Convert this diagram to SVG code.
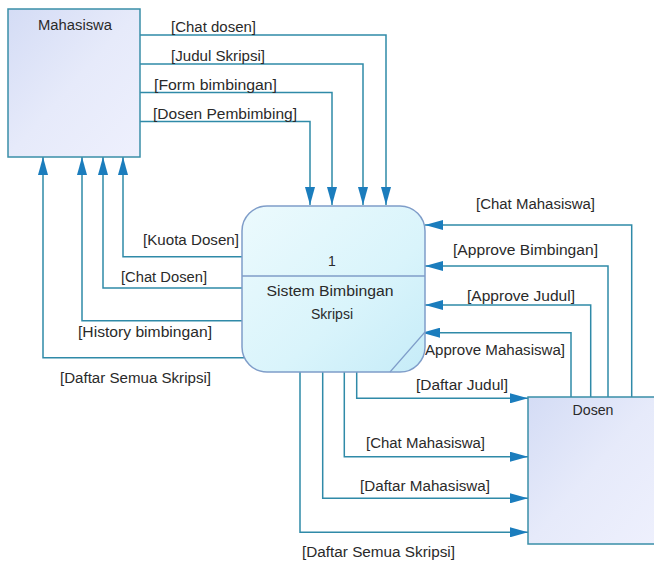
<svg xmlns="http://www.w3.org/2000/svg" width="654" height="565" viewBox="0 0 654 565">
<defs>
<linearGradient id="gEnt" x1="0" y1="0" x2="1" y2="1">
<stop offset="0" stop-color="#d4dcf5"/>
<stop offset="0.5" stop-color="#e6eafa"/>
<stop offset="1" stop-color="#eef0fd"/>
</linearGradient>
<linearGradient id="gProc" x1="0" y1="0" x2="1" y2="1">
<stop offset="0" stop-color="#ecfafd"/>
<stop offset="0.6" stop-color="#d9f4fb"/>
<stop offset="1" stop-color="#c6ecf8"/>
</linearGradient>
<marker id="arr" markerUnits="userSpaceOnUse" markerWidth="18" markerHeight="10" refX="18" refY="5" orient="auto">
<path d="M0,0 L18,5 L0,10 Z" fill="#1b7dbd"/>
</marker>
<style>
.ent{fill:url(#gEnt);stroke:#3a8fa8;stroke-width:1.5}
.proc{fill:url(#gProc);stroke:#7f9dc9;stroke-width:1.5}
.flow{fill:none;stroke:#2f8aa8;stroke-width:1.5;marker-end:url(#arr)}
text{font-family:"Liberation Sans",Arial,sans-serif;font-size:14px;fill:#2a2a2a}
.c{text-anchor:middle}
</style>
</defs>
<rect width="654" height="565" fill="#ffffff"/>

<g id="connectors">
<path class="flow" d="M140,35 H386 V205"/>
<path class="flow" d="M140,64 H363 V205"/>
<path class="flow" d="M140,92.5 H332 V205"/>
<path class="flow" d="M140,121.5 H310 V205"/>

<path class="flow" d="M242,256.7 H123 V157"/>
<path class="flow" d="M242,288 H103 V157"/>
<path class="flow" d="M242,320.7 H82 V157"/>
<path class="flow" d="M244,357.7 H43 V157"/>

<path class="flow" d="M631.7,397 V225 H425"/>
<path class="flow" d="M608,397 V266 H425"/>
<path class="flow" d="M590.7,397 V305 H425"/>
<path class="flow" d="M571,397 V332.7 H422"/>

<path class="flow" d="M356.7,372 V398.3 H528"/>
<path class="flow" d="M344.3,372 V456.7 H528"/>
<path class="flow" d="M322.7,372 V498.3 H528"/>
<path class="flow" d="M300,372 V532.3 H528"/>

<text x="171" y="31.5" textLength="85" lengthAdjust="spacingAndGlyphs">[Chat dosen]</text>
<text x="171" y="60.5" textLength="94" lengthAdjust="spacingAndGlyphs">[Judul Skripsi]</text>
<text x="154" y="89.5" textLength="123" lengthAdjust="spacingAndGlyphs">[Form bimbingan]</text>
<text x="153" y="118.5" textLength="144" lengthAdjust="spacingAndGlyphs">[Dosen Pembimbing]</text>

<text x="143" y="245" textLength="96" lengthAdjust="spacingAndGlyphs">[Kuota Dosen]</text>
<text x="121" y="281.5" textLength="86" lengthAdjust="spacingAndGlyphs">[Chat Dosen]</text>
<text x="78" y="336.5" textLength="134" lengthAdjust="spacingAndGlyphs">[History bimbingan]</text>
<text x="60" y="383" textLength="151" lengthAdjust="spacingAndGlyphs">[Daftar Semua Skripsi]</text>

<text x="476" y="209" textLength="119" lengthAdjust="spacingAndGlyphs">[Chat Mahasiswa]</text>
<text x="453" y="255" textLength="145" lengthAdjust="spacingAndGlyphs">[Approve Bimbingan]</text>
<text x="467" y="300.5" textLength="108" lengthAdjust="spacingAndGlyphs">[Approve Judul]</text>
<text x="425" y="355" textLength="140" lengthAdjust="spacingAndGlyphs">Approve Mahasiswa]</text>

<text x="416" y="390" textLength="92" lengthAdjust="spacingAndGlyphs">[Daftar Judul]</text>
<text x="366" y="448" textLength="119" lengthAdjust="spacingAndGlyphs">[Chat Mahasiswa]</text>
<text x="360" y="491" textLength="130" lengthAdjust="spacingAndGlyphs">[Daftar Mahasiswa]</text>
<text x="302" y="556.5" textLength="153" lengthAdjust="spacingAndGlyphs">[Daftar Semua Skripsi]</text>
</g>

<g id="mahasiswa">
<rect class="ent" x="8" y="9" width="132" height="148"/>
<text class="c" x="75" y="30" textLength="74" lengthAdjust="spacingAndGlyphs">Mahasiswa</text>
</g>

<g id="process">
<rect class="proc" x="242" y="206" width="183" height="166" rx="25" ry="25"/>
<line x1="242" y1="276" x2="425" y2="276" stroke="#7f9dc9" stroke-width="1.5"/>
<line x1="390" y1="372" x2="425" y2="332" stroke="#7f9dc9" stroke-width="1.2"/>
<text class="c" x="332" y="266">1</text>
<text class="c" x="330" y="296" textLength="127" lengthAdjust="spacingAndGlyphs">Sistem Bimbingan</text>
<text class="c" x="332" y="319" textLength="42" lengthAdjust="spacingAndGlyphs">Skripsi</text>
</g>

<g id="dosen">
<rect class="ent" x="528" y="397" width="130" height="147"/>
<text class="c" x="593" y="415" textLength="41" lengthAdjust="spacingAndGlyphs">Dosen</text>
</g>
</svg>
